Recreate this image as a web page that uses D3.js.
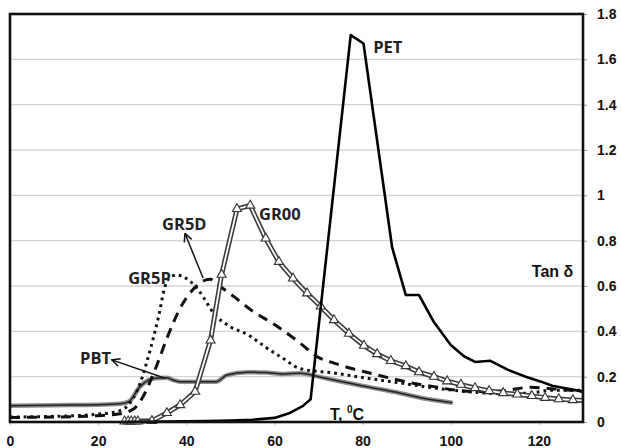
<!DOCTYPE html>
<html>
<head>
<meta charset="utf-8">
<script src="https://cdn.jsdelivr.net/npm/d3@7"></script>
<style>
  html, body { margin: 0; padding: 0; background: #fff; }
  svg { display: block; }
</style>
</head>
<body>
<svg id="chart" width="621" height="448"></svg>
<script>
// ---------- data (temperature, tan delta) ----------
const xTicks = [0, 20, 40, 60, 80, 100, 120];
const yTicks = [0, 0.2, 0.4, 0.6, 0.8, 1, 1.2, 1.4, 1.6, 1.8];
const yTickLabels = ["0", "0.2", "0.4", "0.6", "0.8", "1", "1.2", "1.4", "1.6", "1.8"];

const petX = [26, 35, 45, 50, 55, 60, 63.5, 66.4, 68.2, 77.3, 80.2, 86.7, 89.8, 92.8, 96.2, 100, 103, 105.5, 109, 113, 117, 120.5, 123, 130];
const petY = [0, 0.002, 0.004, 0.006, 0.01, 0.018, 0.04, 0.07, 0.1, 1.707, 1.67, 0.77, 0.56, 0.56, 0.44, 0.34, 0.29, 0.265, 0.27, 0.23, 0.2, 0.178, 0.16, 0.134];

const gr00X = [26, 26.8, 27.5, 28.3, 29, 32.2, 35.6, 38.6, 42, 45.5, 48, 51.5, 54.5, 58, 61, 64.2, 67.4, 70.5, 73.5, 76.9, 80.3, 83.3, 86.4, 89.8, 92.8, 96.2, 99.2, 102.3, 105.5, 108.7, 111.9, 115.1, 118.4, 121.4, 124.5, 127.7, 130];
const gr00Y = [0.003, 0.003, 0.003, 0.003, 0.003, 0.005, 0.04, 0.075, 0.134, 0.36, 0.65, 0.94, 0.955, 0.81, 0.707, 0.634, 0.568, 0.51, 0.45, 0.39, 0.337, 0.3, 0.27, 0.247, 0.22, 0.2, 0.18, 0.165, 0.15, 0.137, 0.128, 0.122, 0.115, 0.107, 0.101, 0.097, 0.095];

const gr5dX = [0, 10, 20, 24.5, 28, 29.5, 33.3, 35.6, 39, 41.3, 44.3, 45.5, 47.3, 50.8, 55, 60, 65.9, 69.7, 73.5, 77.3, 81.8, 86.4, 90.9, 96.2, 100.8, 106, 112, 118, 124, 130];
const gr5dY = [0.02, 0.022, 0.028, 0.035, 0.057, 0.09, 0.25, 0.37, 0.516, 0.58, 0.626, 0.63, 0.604, 0.553, 0.49, 0.43, 0.347, 0.288, 0.26, 0.237, 0.215, 0.193, 0.173, 0.156, 0.141, 0.134, 0.138, 0.153, 0.145, 0.135];

const gr5pX = [0, 10, 20, 24, 26.5, 29.5, 31.8, 33.7, 35.2, 36.4, 37.9, 40.9, 43.2, 46.2, 50, 54, 58, 62, 65.9, 73.5, 81, 88.6, 96.2, 103.8, 111.4, 118, 122.7, 130];
const gr5pY = [0.022, 0.025, 0.035, 0.045, 0.068, 0.17, 0.318, 0.465, 0.6, 0.64, 0.648, 0.62, 0.57, 0.48, 0.42, 0.385, 0.33, 0.28, 0.235, 0.216, 0.193, 0.172, 0.15, 0.134, 0.125, 0.128, 0.14, 0.14];

const pbtX = [0, 10, 20, 25, 27, 29.5, 31.4, 33, 35.6, 37, 38.6, 42, 46.8, 49.2, 53.8, 58, 62, 66, 70, 73.5, 81, 88.6, 95, 100.4];
const pbtY = [0.072, 0.074, 0.076, 0.08, 0.09, 0.156, 0.185, 0.193, 0.195, 0.185, 0.178, 0.178, 0.178, 0.207, 0.22, 0.218, 0.212, 0.215, 0.2, 0.185, 0.156, 0.127, 0.1, 0.085];

// label / annotation anchors in data units
const labels = [
  { text: "PET",  x: 82.4, y: 1.628 },
  { text: "GR00", x: 56.5, y: 0.891 },
  { text: "GR5D", x: 34.5, y: 0.847 },
  { text: "GR5P", x: 26.8, y: 0.609 },
  { text: "PBT",  x: 15.9, y: 0.256 }
];
const arrows = [
  { x1: 43.8, y1: 0.635, x2: 39.7, y2: 0.832 },
  { x1: 35.2, y1: 0.193, x2: 23.1, y2: 0.274 }
];

// ---------- drawing ----------
const svg = d3.select("#chart");
const pL = 10, pR = 583, pT = 14, pB = 422;
const x = d3.scaleLinear().domain([0, 130]).range([pL, pR]);
const y = d3.scaleLinear().domain([0, 1.8]).range([pB, pT]);

// gridlines
svg.append("g").selectAll("line")
  .data(yTicks.filter(v => v > 0 && v < 1.8))
  .join("line")
  .attr("x1", pL).attr("x2", pR)
  .attr("y1", d => y(d)).attr("y2", d => y(d))
  .attr("stroke", "#d4d4d4").attr("stroke-width", 1.3);

// axes
const xAxis = svg.append("g").attr("transform", `translate(0,${pB})`)
  .call(d3.axisBottom(x).tickValues(xTicks).tickSize(3).tickPadding(11).tickFormat(d3.format("d")));
xAxis.select(".domain").remove();
xAxis.selectAll("line").attr("stroke", "#bbb");
xAxis.selectAll("text").attr("font-family", "'Liberation Sans', Arial, sans-serif")
  .attr("font-weight", "bold").attr("font-size", 14).attr("fill", "#111");

const yAxis = svg.append("g").attr("transform", `translate(${pR},0)`)
  .call(d3.axisRight(y).tickValues(yTicks).tickSize(4).tickPadding(10).tickFormat((d, i) => yTickLabels[i]));
yAxis.select(".domain").remove();
yAxis.selectAll("line").attr("stroke", "#999");
yAxis.selectAll("text").attr("font-family", "'Liberation Sans', Arial, sans-serif")
  .attr("font-weight", "bold").attr("font-size", 14).attr("fill", "#111");

const toPts = (xs, ys) => xs.map((v, i) => [v, ys[i]]);
const lineLin = d3.line().x(d => x(d[0])).y(d => y(d[1]));
const lineSmooth = d3.line().x(d => x(d[0])).y(d => y(d[1])).curve(d3.curveMonotoneX);

const plot = svg.append("g");

// PBT: grey halo with dark core
plot.append("path").attr("d", lineSmooth(toPts(pbtX, pbtY)))
  .attr("fill", "none").attr("stroke", "#8f8f8f").attr("stroke-width", 4.5);
plot.append("path").attr("d", lineSmooth(toPts(pbtX, pbtY)))
  .attr("fill", "none").attr("stroke", "#222").attr("stroke-width", 1.5);

// GR5P dotted
plot.append("path").attr("d", lineSmooth(toPts(gr5pX, gr5pY)))
  .attr("fill", "none").attr("stroke", "#111").attr("stroke-width", 3)
  .attr("stroke-dasharray", "2.8,4");

// GR5D dashed
plot.append("path").attr("d", lineSmooth(toPts(gr5dX, gr5dY)))
  .attr("fill", "none").attr("stroke", "#111").attr("stroke-width", 3)
  .attr("stroke-dasharray", "10,7");

// GR00 double line with triangles
const gr00 = toPts(gr00X, gr00Y);
plot.append("path").attr("d", lineLin(gr00))
  .attr("fill", "none").attr("stroke", "#3a3a3a").attr("stroke-width", 5);
plot.append("path").attr("d", lineLin(gr00))
  .attr("fill", "none").attr("stroke", "#fff").attr("stroke-width", 1.8);
const tri = d3.symbol().type(d3.symbolTriangle).size(36);
plot.append("g").selectAll("path")
  .data(gr00.filter(d => d[0] < 130))
  .join("path")
  .attr("d", tri)
  .attr("transform", d => `translate(${x(d[0])},${y(d[1])})`)
  .attr("fill", "#fff").attr("stroke", "#333").attr("stroke-width", 1.1);

// PET solid
plot.append("path").attr("d", lineLin(toPts(petX, petY)))
  .attr("fill", "none").attr("stroke", "#000").attr("stroke-width", 2.6)
  .attr("stroke-linejoin", "round");

// frame
svg.append("rect").attr("x", pL).attr("y", pT)
  .attr("width", pR - pL).attr("height", pB - pT)
  .attr("fill", "none").attr("stroke", "#111").attr("stroke-width", 2.6);

// arrows
svg.append("defs").append("marker")
  .attr("id", "arr").attr("viewBox", "0 0 10 10").attr("refX", 9).attr("refY", 5)
  .attr("markerWidth", 10).attr("markerHeight", 10).attr("markerUnits", "userSpaceOnUse")
  .attr("orient", "auto")
  .append("path").attr("d", "M1,1 L9,5 L1,9").attr("fill", "none")
  .attr("stroke", "#111").attr("stroke-width", 1.5);
svg.append("g").selectAll("line").data(arrows).join("line")
  .attr("x1", d => x(d.x1)).attr("y1", d => y(d.y1))
  .attr("x2", d => x(d.x2)).attr("y2", d => y(d.y2))
  .attr("stroke", "#111").attr("stroke-width", 1.5)
  .attr("marker-end", "url(#arr)");

// curve labels
svg.append("g").selectAll("text").data(labels).join("text")
  .attr("x", d => x(d.x)).attr("y", d => y(d.y))
  .attr("font-family", "'Open Sans', sans-serif").attr("font-weight", "bold")
  .attr("font-size", 16.5).attr("fill", "#222")
  .text(d => d.text);

// axis titles
svg.append("text").attr("x", x(118.4)).attr("y", y(0.64))
  .attr("font-family", "'Liberation Sans', Arial, sans-serif").attr("font-weight", "bold")
  .attr("font-size", 16).attr("fill", "#111").text("Tan δ");

const tt = svg.append("text").attr("x", x(72.6)).attr("y", y(0.01))
  .attr("font-family", "'Liberation Sans', Arial, sans-serif").attr("font-weight", "bold")
  .attr("font-size", 16).attr("fill", "#111");
tt.append("tspan").text("T, ");
tt.append("tspan").attr("font-size", 10).attr("dy", -7).text("0");
tt.append("tspan").attr("dy", 7).text("C");
</script>
</body>
</html>
